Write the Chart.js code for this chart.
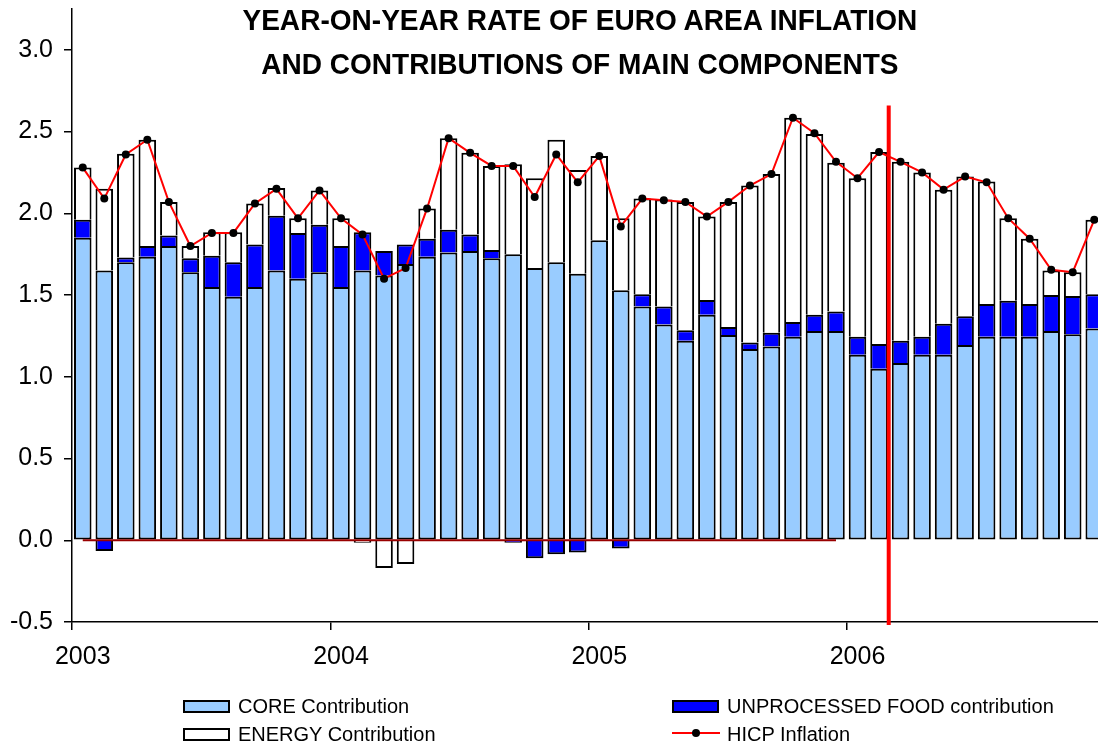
<!DOCTYPE html>
<html>
<head>
<meta charset="utf-8">
<script src="https://cdn.jsdelivr.net/npm/chart.js@4/dist/chart.umd.min.js"></script>
<style>
  body { margin: 0; width: 1098px; height: 746px; overflow: hidden; position: relative; background: #fff; font-family: "Liberation Sans", Arial, sans-serif; }
  #wrap { position: absolute; left: 0; top: 0; width: 1109px; height: 746px; }
  .title { position: absolute; left: 0; width: 1160px; text-align: center; font-family: "Liberation Sans", Arial, sans-serif; font-weight: bold; font-size: 30px; height: 32px; line-height: 32px; color: #000; }
  .title span { display: inline-block; transform: scaleX(0.935); }
  .leg { position: absolute; font-size: 20px; height: 24px; line-height: 24px; color: #000; white-space: nowrap; }
  .sw { position: absolute; width: 47px; height: 13px; box-sizing: border-box; border: 2px solid #000; }
</style>
</head>
<body>
<div id="wrap"><canvas id="chart"></canvas></div>

<div class="title" style="top:4px"><span>YEAR-ON-YEAR RATE OF EURO AREA INFLATION</span></div>
<div class="title" style="top:48px"><span>AND CONTRIBUTIONS OF MAIN COMPONENTS</span></div>

<div class="sw" style="left:183px; top:700px; background:#99CCFF"></div>
<div class="leg" style="left:238px; top:694px">CORE Contribution</div>
<div class="sw" style="left:183px; top:728px; background:#FFFFFF"></div>
<div class="leg" style="left:238px; top:722px">ENERGY Contribution</div>
<div class="sw" style="left:672px; top:700px; background:#0000FF"></div>
<div class="leg" style="left:727px; top:694px">UNPROCESSED FOOD contribution</div>
<div style="position:absolute; left:672px; top:732px; width:48px; height:2px; background:#FF0000"></div>
<div style="position:absolute; left:692px; top:729px; width:8px; height:8px; border-radius:50%; background:#000"></div>
<div class="leg" style="left:727px; top:722px">HICP Inflation</div>

<script>
// monthly, Jan 2003 - Dec 2006
var months = [];
for (var yr = 2003; yr <= 2006; yr++) {
	for (var m = 1; m <= 12; m++) months.push(yr + '-' + (m < 10 ? '0' + m : m));
}

var core = [1.85,1.65,1.70,1.735,1.80,1.64,1.55,1.49,1.55,1.65,1.60,1.64,
	1.55,1.65,1.62,1.69,1.735,1.76,1.77,1.725,1.75,1.665,1.70,1.63,
	1.835,1.53,1.43,1.32,1.22,1.38,1.255,1.17,1.185,1.245,1.28,1.28,
	1.135,1.05,1.085,1.135,1.135,1.195,1.245,1.245,1.245,1.28,1.26,1.295];

var food = [0.11,-0.065,0.03,0.065,0.065,0.085,0.19,0.21,0.26,0.335,0.28,0.29,
	0.25,0.235,0.15,0.12,0.11,0.14,0.10,0.05,-0.015,-0.11,-0.085,-0.075,
	0.0,-0.05,0.075,0.11,0.065,0.09,0.05,0.04,0.085,0.09,0.10,0.12,
	0.11,0.15,0.135,0.11,0.19,0.175,0.20,0.22,0.20,0.22,0.235,0.21];

var energy = [0.32,0.50,0.635,0.65,0.205,0.075,0.145,0.185,0.25,0.17,0.09,0.21,
	0.17,-0.015,-0.17,-0.145,0.185,0.56,0.50,0.515,0.55,0.55,0.75,0.635,
	0.515,0.44,0.585,0.655,0.785,0.51,0.765,0.96,0.97,1.25,1.105,0.91,
	0.97,1.175,1.095,1.005,0.82,0.855,0.75,0.505,0.40,0.15,0.145,0.455];

var hicp = [2.28,2.09,2.36,2.45,2.07,1.80,1.88,1.88,2.06,2.15,1.97,2.14,
	1.97,1.87,1.60,1.665,2.03,2.46,2.37,2.29,2.29,2.10,2.36,2.19,
	2.35,1.92,2.09,2.08,2.07,1.98,2.07,2.17,2.24,2.585,2.49,2.315,
	2.215,2.375,2.315,2.25,2.145,2.225,2.19,1.97,1.845,1.655,1.64,1.96];

// thin zero line drawn through the end of 2005
var zeroLine = [0,0,0,0,0,0,0,0,0,0,0,0, 0,0,0,0,0,0,0,0,0,0,0,0, 0,0,0,0,0,0,0,0,0,0,0,0,
	null,null,null,null,null,null,null,null,null,null,null,null];

var yTicks = [-0.5, 0, 0.5, 1, 1.5, 2, 2.5, 3];

// red vertical marker (category index units) and its top value
var markerIndex = 37.45;
var markerTop = 2.66;

var markerPlugin = {
	id: 'marker',
	afterDatasetsDraw: function(chart) {
		var x = chart.scales.x.getPixelForValue(markerIndex);
		var y1 = chart.scales.y.getPixelForValue(markerTop);
		var y2 = chart.scales.y.getPixelForValue(yTicks[0]) + 3;
		var ctx = chart.ctx;
		ctx.save();
		ctx.strokeStyle = '#FF0000';
		ctx.lineWidth = 4;
		ctx.beginPath();
		ctx.moveTo(x, y1);
		ctx.lineTo(x, y2);
		ctx.stroke();
		ctx.restore();
	}
};

new Chart(document.getElementById('chart'), {
	type: 'bar',
	data: {
		labels: months,
		datasets: [{
			type: 'line',
			label: 'HICP Inflation',
			data: hicp,
			stack: 'hicp',
			borderColor: '#FF0000',
			borderWidth: 2,
			pointRadius: 4,
			pointBackgroundColor: '#000',
			pointBorderColor: '#000',
			pointBorderWidth: 0,
			tension: 0
		}, {
			type: 'line',
			label: 'zero',
			data: zeroLine,
			stack: 'zero',
			borderColor: '#990000',
			borderWidth: 2,
			pointRadius: 0,
			tension: 0
		}, {
			label: 'CORE Contribution',
			data: core,
			stack: 'c',
			backgroundColor: '#99CCFF',
			borderColor: '#000',
			borderWidth: 2,
			borderSkipped: false
		}, {
			label: 'UNPROCESSED FOOD contribution',
			data: food,
			stack: 'c',
			backgroundColor: '#0000FF',
			borderColor: '#000',
			borderWidth: 2,
			borderSkipped: 'start'
		}, {
			label: 'ENERGY Contribution',
			data: energy,
			stack: 'c',
			backgroundColor: '#FFFFFF',
			borderColor: '#000',
			borderWidth: 2,
			borderSkipped: 'start'
		}]
	},
	options: {
		responsive: true,
		maintainAspectRatio: false,
		animation: false,
		barPercentage: 0.815,
		categoryPercentage: 1,
		layout: { padding: { top: 9, left: 0, right: 0, bottom: 0 } },
		plugins: {
			legend: { display: false },
			tooltip: { enabled: false }
		},
		scales: {
			x: {
				stacked: true,
				grid: {
					offset: true,
					drawOnChartArea: false,
					tickLength: 8,
					lineWidth: 1.5,
					tickColor: function(c) { return c.index % 12 === 0 ? '#000' : 'rgba(0,0,0,0)'; }
				},
				border: { color: '#000', width: 1.5 },
				ticks: {
					autoSkip: false,
					maxRotation: 0,
					padding: 12,
					color: '#000',
					font: { family: '"Liberation Sans", Arial, sans-serif', size: 25 },
					callback: function(v, i) { return i % 12 === 0 ? months[i].slice(0, 4) : ''; }
				},
				afterFit: function(s) { s.height = 124; s.paddingLeft = 0; s.paddingRight = 0; }
			},
			y: {
				stacked: true,
				min: -0.5,
				max: 3.25,
				grid: {
					drawOnChartArea: false,
					tickLength: 8,
					lineWidth: 1.5,
					tickColor: '#000'
				},
				border: { color: '#000', width: 1.5 },
				afterBuildTicks: function(s) { s.ticks = yTicks.map(function(v) { return { value: v }; }); },
				ticks: {
					padding: 11,
					color: '#000',
					font: { family: '"Liberation Sans", Arial, sans-serif', size: 25 },
					callback: function(v) { return v.toFixed(1); }
				},
				afterFit: function(s) { s.width = 72; s.paddingTop = 0; s.paddingBottom = 0; }
			}
		}
	},
	plugins: [markerPlugin]
});
</script>
</body>
</html>
